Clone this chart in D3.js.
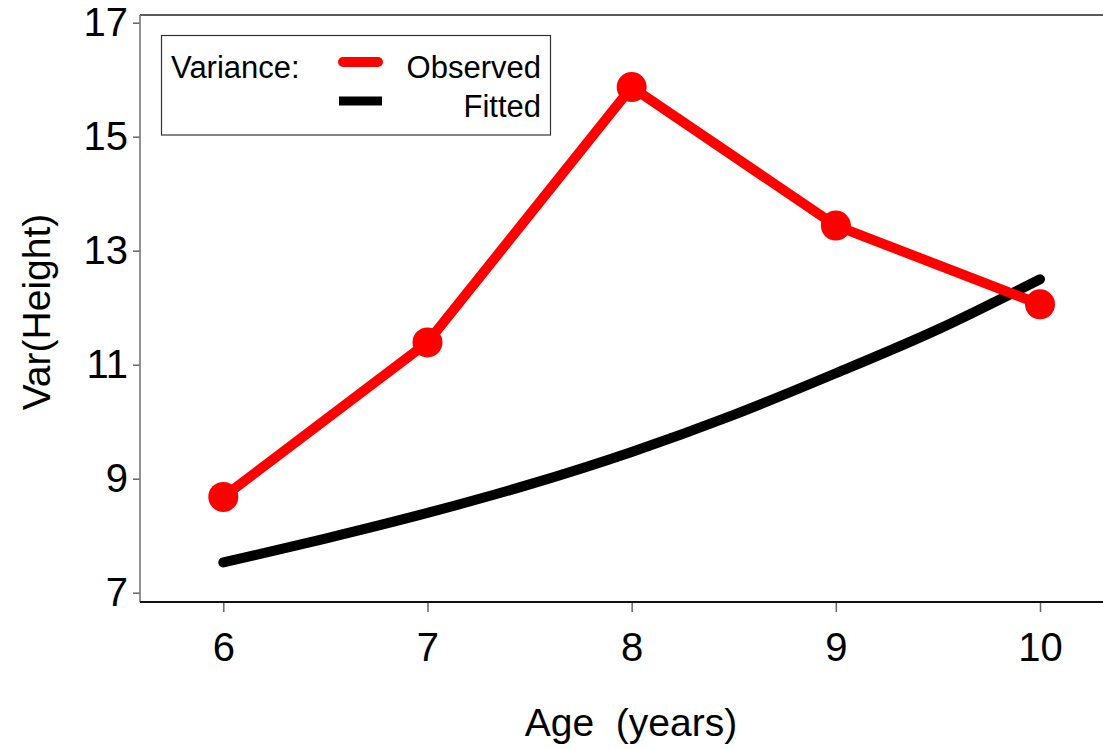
<!DOCTYPE html>
<html>
<head>
<meta charset="utf-8">
<script src="https://cdn.jsdelivr.net/npm/d3@7"></script>
<style>
  html, body { margin: 0; padding: 0; background: #fff; }
  svg { display: block; font-family: "Liberation Sans", Arial, Helvetica, sans-serif; }
</style>
</head>
<body>
<svg id="chart" width="1103" height="749"></svg>
<script>
// Ages at which variance was measured
const ages = [6, 7, 8, 9, 10];
// Observed variance of height at each age
const observedVar = [8.68, 11.39, 15.87, 13.44, 12.06];
// Fitted variance curve, sampled every half year
const fittedAges = [6, 6.5, 7, 7.5, 8, 8.5, 9, 9.5, 10];
const fittedVar = [7.53, 7.95, 8.40, 8.90, 9.47, 10.12, 10.85, 11.62, 12.50];
// Axis ticks
const xTicks = [6, 7, 8, 9, 10];
const yTicks = [7, 9, 11, 13, 15, 17];
// Legend entries
const legendTitle = "Variance:";
const legendLabels = ["Observed", "Fitted"];
const legendColors = ["#ff0000", "#000000"];

const svg = d3.select("#chart");

const plotLeft = 140, plotRight = 1103, plotTop = 15, plotBottom = 602;

const x = d3.scaleLinear().domain([6, 10]).range([223.3, 1040]);
const y = d3.scaleLinear().domain([7, 17]).range([592.7, 22.7]);

// Frame: top border line
svg.append("line")
  .attr("x1", plotLeft).attr("x2", plotRight)
  .attr("y1", plotTop).attr("y2", plotTop)
  .attr("stroke", "#222").attr("stroke-width", 1.6);

// Y axis
const yAxis = svg.append("g")
  .attr("transform", `translate(${plotLeft},0)`)
  .call(d3.axisLeft(y).tickValues(yTicks).tickSize(7).tickPadding(5).tickFormat(d3.format("d")));
yAxis.select(".domain").remove();
yAxis.selectAll(".tick line").attr("stroke", "#666").attr("stroke-width", 1.5);
yAxis.selectAll(".tick text")
  .attr("font-size", 40).attr("fill", "#000")
  .attr("font-family", "'Liberation Sans', Arial, sans-serif");
svg.append("line")
  .attr("x1", plotLeft).attr("x2", plotLeft)
  .attr("y1", plotTop).attr("y2", plotBottom)
  .attr("stroke", "#777").attr("stroke-width", 1.6);

// X axis
const xAxis = svg.append("g")
  .attr("transform", `translate(0,${plotBottom})`)
  .call(d3.axisBottom(x).tickValues(xTicks).tickSize(10).tickPadding(21).tickFormat(d3.format("d")));
xAxis.select(".domain").remove();
xAxis.selectAll(".tick line").attr("stroke", "#666").attr("stroke-width", 1.5);
xAxis.selectAll(".tick text")
  .attr("font-size", 40).attr("fill", "#000")
  .attr("font-family", "'Liberation Sans', Arial, sans-serif");
svg.append("line")
  .attr("x1", plotLeft).attr("x2", plotRight)
  .attr("y1", plotBottom).attr("y2", plotBottom)
  .attr("stroke", "#111").attr("stroke-width", 1.8);

// Axis titles
svg.append("text")
  .attr("x", 631).attr("y", 736)
  .attr("text-anchor", "middle")
  .attr("font-size", 39)
  .attr("xml:space", "preserve")
  .style("white-space", "pre")
  .text("Age  (years)");
svg.append("text")
  .attr("transform", "translate(50,312) rotate(-90)")
  .attr("text-anchor", "middle")
  .attr("font-size", 39)
  .text("Var(Height)");

// Fitted curve
const fittedLine = d3.line()
  .x((d, i) => x(fittedAges[i]))
  .y(d => y(d))
  .curve(d3.curveMonotoneX);
svg.append("path")
  .attr("d", fittedLine(fittedVar))
  .attr("fill", "none")
  .attr("stroke", legendColors[1])
  .attr("stroke-width", 10)
  .attr("stroke-linecap", "round");

// Observed series
const obsLine = d3.line()
  .x((d, i) => x(ages[i]))
  .y(d => y(d));
svg.append("path")
  .attr("d", obsLine(observedVar))
  .attr("fill", "none")
  .attr("stroke", legendColors[0])
  .attr("stroke-width", 10)
  .attr("stroke-linejoin", "round");
svg.selectAll("circle.obs")
  .data(observedVar)
  .enter().append("circle")
  .attr("class", "obs")
  .attr("cx", (d, i) => x(ages[i]))
  .attr("cy", d => y(d))
  .attr("r", 15)
  .attr("fill", legendColors[0]);

// Legend
const lg = svg.append("g");
lg.append("rect")
  .attr("x", 161.5).attr("y", 35.5)
  .attr("width", 389).attr("height", 99.5)
  .attr("fill", "#fff").attr("stroke", "#333").attr("stroke-width", 1.2);
lg.append("text")
  .attr("x", 171).attr("y", 78)
  .attr("font-size", 31)
  .text(legendTitle);
const legendY = [62, 101];
const legendTextY = [78, 117];
legendLabels.forEach((lab, i) => {
  lg.append("line")
    .attr("x1", i === 0 ? 343 : 339).attr("x2", i === 0 ? 378 : 382)
    .attr("y1", legendY[i]).attr("y2", legendY[i])
    .attr("stroke", legendColors[i])
    .attr("stroke-width", i === 0 ? 10 : 9)
    .attr("stroke-linecap", i === 0 ? "round" : "butt");
  lg.append("text")
    .attr("x", 541).attr("y", legendTextY[i])
    .attr("text-anchor", "end")
    .attr("font-size", 31)
    .text(lab);
});
</script>
</body>
</html>
